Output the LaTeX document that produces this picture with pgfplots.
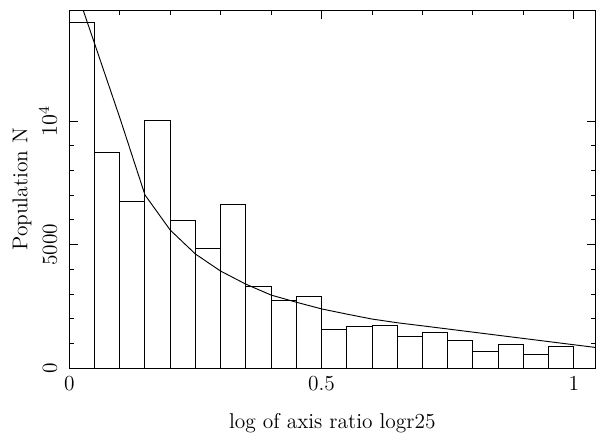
\documentclass[border=0pt]{standalone}
\usepackage{pgfplots}
\pgfplotsset{compat=1.18}
\begin{document}
\begin{tikzpicture}
\useasboundingbox (-37.2pt,-36.35pt) rectangle (282.8pt,197.7pt);
\begin{axis}[
  at={(0,0)}, anchor=south west,
  scale only axis, width=282.5pt, height=192.2pt,
  axis on top,
  font=\fontsize{11.5}{13.5}\selectfont,
  xmin=0, xmax=1.043, ymin=0, ymax=14480,
  xtick={0,0.5,1}, xticklabels={0,0.5,1}, minor x tick num=4,
  ytick={0,5000,10000}, yticklabels={0,5000,$10^4$}, minor y tick num=4,
  scaled y ticks=false, scaled x ticks=false,
  tick align=inside,
  major tick length=4.8pt, minor tick length=2.5pt,
  every tick/.style={black, line width=0.5pt},
  axis line style={line width=0.5pt},
  xticklabel style={anchor=base}, xticklabel shift=11.7pt,
  yticklabel style={rotate=90, anchor=base}, yticklabel shift=6.6pt,
  xlabel={log of axis ratio logr25},
  ylabel={Population N},
  xlabel style={at={(axis description cs:0.5,-0.153)}, anchor=center},
  ylabel style={at={(axis description cs:-0.09,0.5)}, anchor=center},
]
\addplot[ybar interval, draw=black, fill=white, line width=0.5pt] coordinates {
(0.00,14000) (0.05,8730) (0.10,6740) (0.15,10030) (0.20,5970)
(0.25,4850) (0.30,6630) (0.35,3320) (0.40,2760) (0.45,2920)
(0.50,1560) (0.55,1680) (0.60,1750) (0.65,1280) (0.70,1460)
(0.75,1120) (0.80,690) (0.85,970) (0.90,550) (0.95,890) (1.00,890)
};
\addplot[black, line width=0.5pt, mark=none, sharp plot] coordinates {
(0.00,16130) (0.05,13140) (0.10,10140) (0.15,7010) (0.20,5590)
(0.25,4620) (0.30,3930) (0.35,3400) (0.40,2960) (0.45,2670)
(0.50,2400) (0.55,2190) (0.60,1990) (0.65,1840) (0.70,1715)
(0.80,1460) (0.90,1205) (1.00,950) (1.043,840)
};
\end{axis}
\end{tikzpicture}
\end{document}
